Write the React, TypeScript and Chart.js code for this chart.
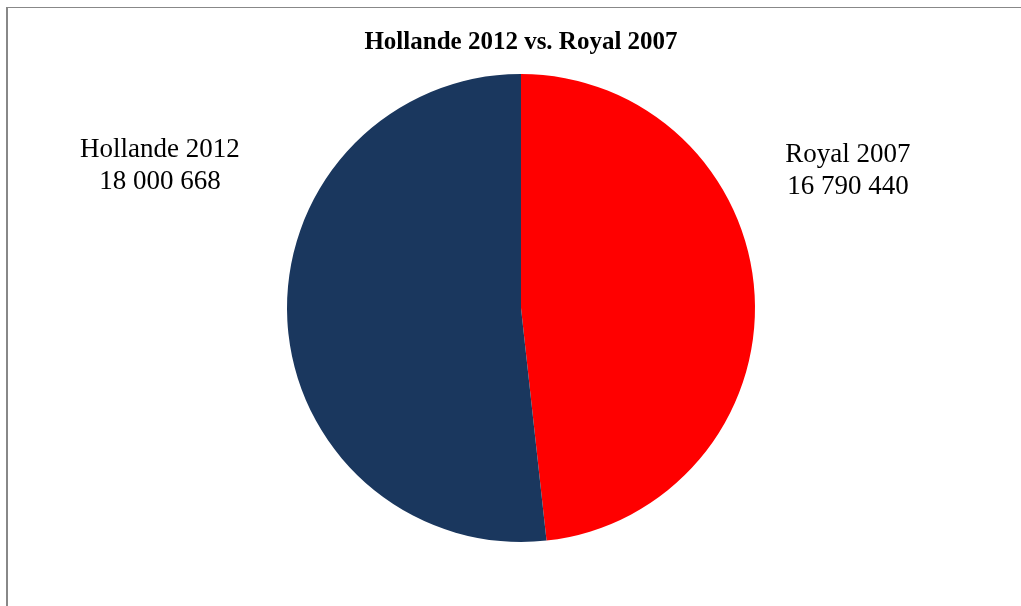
import React, { useEffect, useRef } from "react";
import { Chart, registerables } from "chart.js";

Chart.register(...registerables);

const categories = ["Royal 2007", "Hollande 2012"];
const votes = [16790440, 18000668];
const valueLabels = ["16 790 440", "18 000 668"];
const sliceColors = ["#FF0000", "#1A375E"];
const chartTitle = "Hollande 2012 vs. Royal 2007";

const labelPlugin = {
  id: "outsideLabels",
  afterDatasetsDraw(chart: any, _args: any, opts: any) {
    const ctx = chart.ctx;
    const meta = chart.getDatasetMeta(0);
    ctx.save();
    ctx.fillStyle = "#000";
    ctx.font = "27px 'Liberation Serif'";
    ctx.textAlign = "center";
    ctx.textBaseline = "middle";
    meta.data.forEach((arc: any, i: number) => {
      const off = opts.offsets[i];
      const r = arc.outerRadius;
      const x = arc.x + off[0] * r;
      const y = arc.y + off[1] * r;
      ctx.fillText(categories[i], x, y - 16);
      ctx.fillText(valueLabels[i], x, y + 16);
    });
    ctx.restore();
  },
};

const framePlugin = {
  id: "frame",
  beforeDraw(chart: any) {
    const ctx = chart.ctx;
    ctx.save();
    ctx.fillStyle = "#fff";
    ctx.fillRect(0, 0, chart.width, chart.height);
    ctx.fillStyle = "#888";
    ctx.fillRect(6, 7, 2, chart.height - 7);
    ctx.fillRect(6, 7, chart.width - 6, 1);
    ctx.restore();
  },
};

export default function App() {
  const ref = useRef<HTMLCanvasElement>(null);
  useEffect(() => {
    if (!ref.current) return;
    const chart = new Chart(ref.current, {
      type: "pie",
      data: {
        labels: categories,
        datasets: [
          {
            data: votes,
            backgroundColor: sliceColors,
            borderWidth: 0,
          },
        ],
      },
      options: {
        animation: false,
        responsive: false,
        layout: { padding: { top: 20, left: 287, right: 266, bottom: 64 } },
        plugins: {
          legend: { display: false },
          tooltip: { enabled: false },
          title: {
            display: true,
            text: chartTitle,
            color: "#000",
            font: { family: "'Liberation Serif'", size: 25, weight: "bold" },
            padding: { top: 8, bottom: 16 },
          },
          outsideLabels: {
            offsets: [
              [1.397, -0.585],
              [-1.543, -0.607],
            ],
          },
        } as any,
      },
      plugins: [framePlugin, labelPlugin],
    });
    return () => chart.destroy();
  }, []);
  return (
    <div style={{ position: "absolute", left: 0, top: 0, width: 1021, height: 606 }}>
      <canvas ref={ref} width={1021} height={606} style={{ width: 1021, height: 606 }} />
    </div>
  );
}
